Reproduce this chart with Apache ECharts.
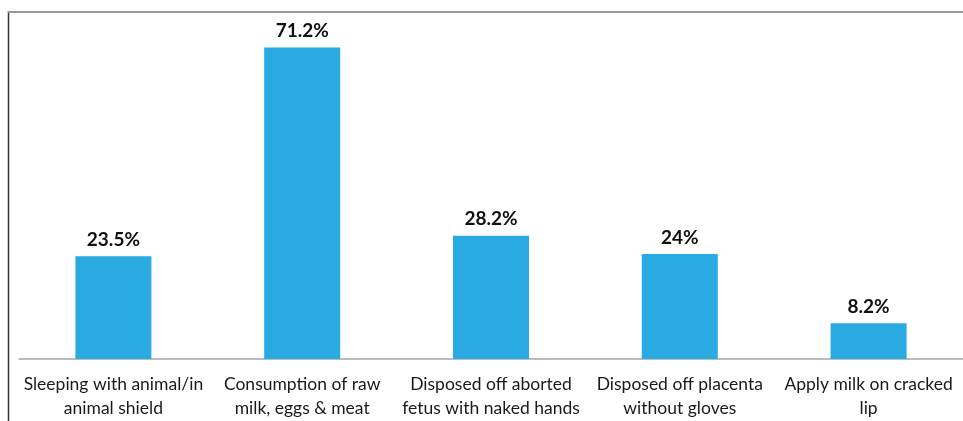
<!DOCTYPE html>
<html>
<head>
<meta charset="utf-8">
<script src="https://cdn.jsdelivr.net/npm/echarts@6/dist/echarts.min.js"></script>
<style>
  html, body { margin: 0; padding: 0; background: #fff; }
  #chart { width: 963px; height: 421px; }
</style>
</head>
<body>
<div id="chart"></div>
<script>
// data
const categories = [
  'Sleeping with animal/in\nanimal shield',
  'Consumption of raw\nmilk, eggs & meat',
  'Disposed off aborted\nfetus with naked hands',
  'Disposed off placenta\nwithout gloves',
  'Apply milk on cracked\nlip'
];
const percents = [23.5, 71.2, 28.2, 24, 8.2];

const chart = echarts.init(document.getElementById('chart'));
chart.setOption({
  animation: false,
  grid: { left: 19, top: 9, width: 945, bottom: 62, containLabel: false },
  xAxis: {
    type: 'category',
    data: categories,
    axisLine: { lineStyle: { color: '#a6a6a6', width: 1.5 } },
    axisTick: { show: false },
    axisLabel: {
      interval: 0,
      margin: 13,
      fontFamily: 'Lato',
      fontSize: 17.5,
      lineHeight: 24,
      color: '#1a1a1a'
    }
  },
  yAxis: {
    type: 'value',
    min: 0,
    max: 80,
    show: false
  },
  series: [{
    type: 'bar',
    data: percents,
    barWidth: 76,
    itemStyle: { color: '#29abe2' },
    label: {
      show: true,
      position: 'top',
      distance: 7,
      formatter: p => p.value + '%',
      fontFamily: 'Lato',
      fontWeight: 'bold',
      fontSize: 19,
      color: '#111'
    }
  }],
  graphic: [
    { type: 'line', shape: { x1: 8.5, y1: 11, x2: 8.5, y2: 421 }, style: { stroke: '#333', lineWidth: 1.5 } },
    { type: 'line', shape: { x1: 8, y1: 12, x2: 963, y2: 12 }, style: { stroke: '#999', lineWidth: 2 } }
  ]
});
</script>
</body>
</html>
